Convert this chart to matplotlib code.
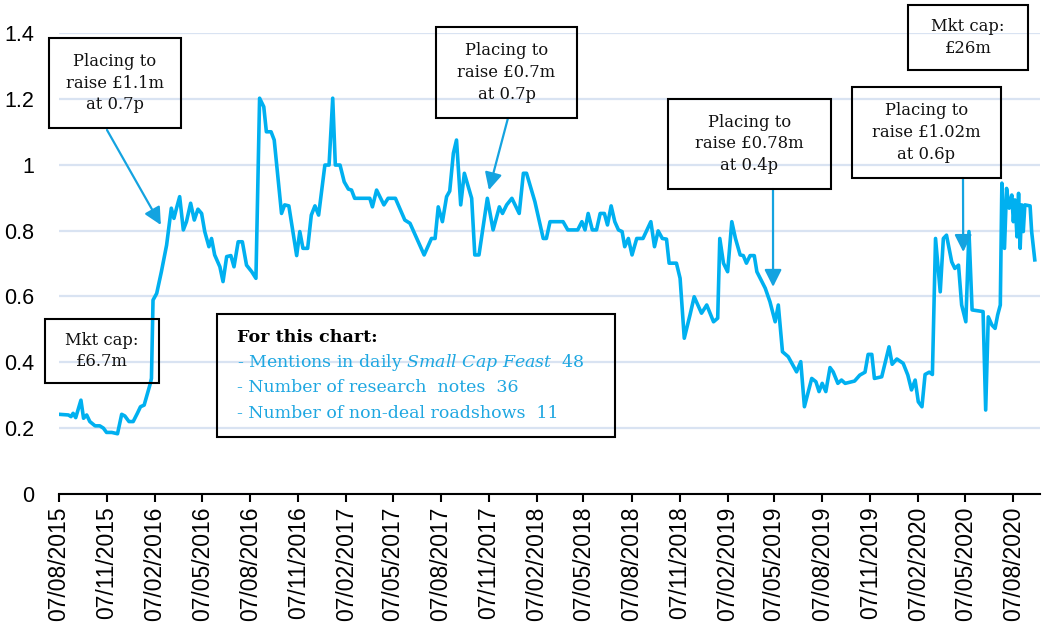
import matplotlib
matplotlib.use('Agg')
import matplotlib.pyplot as plt
import matplotlib.dates as mdates
import pandas as pd
from matplotlib.patches import Rectangle

# ---------------- data ----------------
dates = [
    '2015-08-07', '2015-08-25', '2015-08-30', '2015-09-03', '2015-09-08', '2015-09-18', '2015-09-23',
    '2015-09-29', '2015-10-05', '2015-10-15', '2015-10-24', '2015-10-31', '2015-11-06', '2015-11-16',
    '2015-11-27', '2015-12-05', '2015-12-11', '2015-12-19', '2015-12-27', '2016-01-04', '2016-01-10',
    '2016-01-17', '2016-01-28', '2016-01-31', '2016-02-03', '2016-02-10', '2016-02-19', '2016-02-29',
    '2016-03-09', '2016-03-14', '2016-03-19', '2016-03-25', '2016-04-01', '2016-04-07', '2016-04-15',
    '2016-04-22', '2016-04-29', '2016-05-06', '2016-05-12', '2016-05-20', '2016-05-25', '2016-05-31',
    '2016-06-10', '2016-06-16', '2016-06-23', '2016-07-01', '2016-07-07', '2016-07-15', '2016-07-23',
    '2016-07-31', '2016-08-10', '2016-08-18', '2016-08-25', '2016-09-02', '2016-09-07', '2016-09-16',
    '2016-09-22', '2016-10-06', '2016-10-12', '2016-10-20', '2016-11-04', '2016-11-10', '2016-11-16',
    '2016-11-25', '2016-12-02', '2016-12-09', '2016-12-16', '2016-12-28', '2017-01-05', '2017-01-12',
    '2017-01-17', '2017-01-26', '2017-02-03', '2017-02-11', '2017-02-17', '2017-02-23', '2017-03-24',
    '2017-03-29', '2017-04-06', '2017-04-20', '2017-04-28', '2017-05-12', '2017-05-30', '2017-06-09',
    '2017-07-06', '2017-07-20', '2017-07-27', '2017-08-02', '2017-08-10', '2017-08-18', '2017-08-24',
    '2017-08-31', '2017-09-06', '2017-09-14', '2017-09-21', '2017-10-05', '2017-10-11', '2017-10-19',
    '2017-11-04', '2017-11-15', '2017-11-27', '2017-12-03', '2017-12-11', '2017-12-21', '2018-01-04',
    '2018-01-12', '2018-01-18', '2018-02-03', '2018-02-19', '2018-02-25', '2018-03-04', '2018-03-29',
    '2018-04-07', '2018-04-26', '2018-05-04', '2018-05-10', '2018-05-16', '2018-05-24', '2018-06-01',
    '2018-06-08', '2018-06-16', '2018-06-22', '2018-06-29', '2018-07-06', '2018-07-13', '2018-07-20',
    '2018-07-25', '2018-08-01', '2018-08-08', '2018-08-17', '2018-08-29', '2018-09-13', '2018-09-20',
    '2018-09-27', '2018-10-05', '2018-10-13', '2018-10-18', '2018-11-01', '2018-11-08', '2018-11-16',
    '2018-11-27', '2018-12-05', '2018-12-19', '2018-12-29', '2019-01-11', '2019-01-19', '2019-01-23',
    '2019-01-30', '2019-02-07', '2019-02-15', '2019-02-22', '2019-03-03', '2019-03-09', '2019-03-15',
    '2019-03-22', '2019-03-30', '2019-04-04', '2019-04-20', '2019-04-29', '2019-05-09', '2019-05-15',
    '2019-05-23', '2019-06-03', '2019-06-19', '2019-06-27', '2019-07-04', '2019-07-18', '2019-07-26',
    '2019-08-01', '2019-08-07', '2019-08-14', '2019-08-22', '2019-08-28', '2019-09-06', '2019-09-13',
    '2019-09-20', '2019-10-08', '2019-10-18', '2019-10-28', '2019-11-03', '2019-11-10', '2019-11-15',
    '2019-11-29', '2019-12-09', '2019-12-13', '2019-12-19', '2019-12-28', '2020-01-09', '2020-01-18',
    '2020-01-25', '2020-02-01', '2020-02-07', '2020-02-14', '2020-02-20', '2020-02-28', '2020-03-05',
    '2020-03-11', '2020-03-20', '2020-03-26', '2020-04-01', '2020-04-11', '2020-04-17', '2020-04-24',
    '2020-04-30', '2020-05-08', '2020-05-14', '2020-05-20', '2020-06-10', '2020-06-15', '2020-06-20',
    '2020-06-27', '2020-07-03', '2020-07-08', '2020-07-13', '2020-07-16', '2020-07-21', '2020-07-25',
    '2020-07-30', '2020-08-04', '2020-08-07', '2020-08-10', '2020-08-14', '2020-08-17', '2020-08-20',
    '2020-08-23', '2020-08-26', '2020-08-29', '2020-09-08', '2020-09-11', '2020-09-17',
]
price = [
    0.242, 0.240, 0.235, 0.245, 0.232, 0.285, 0.230,
    0.240, 0.220, 0.207, 0.207, 0.200, 0.187, 0.187,
    0.183, 0.242, 0.237, 0.220, 0.220, 0.245, 0.265,
    0.270, 0.331, 0.351, 0.589, 0.609, 0.675, 0.756,
    0.868, 0.837, 0.868, 0.903, 0.802, 0.827, 0.883,
    0.832, 0.865, 0.852, 0.797, 0.751, 0.776, 0.726,
    0.690, 0.645, 0.721, 0.724, 0.690, 0.766, 0.766,
    0.695, 0.675, 0.655, 1.202, 1.176, 1.100, 1.100,
    1.075, 0.852, 0.878, 0.875, 0.724, 0.797, 0.746,
    0.746, 0.847, 0.875, 0.847, 0.999, 0.999, 1.202,
    0.999, 0.999, 0.948, 0.926, 0.923, 0.898, 0.898,
    0.872, 0.923, 0.878, 0.898, 0.898, 0.832, 0.822,
    0.726, 0.776, 0.776, 0.872, 0.827, 0.903, 0.920,
    1.035, 1.075, 0.878, 0.974, 0.898, 0.726, 0.726,
    0.898, 0.802, 0.872, 0.852, 0.878, 0.898, 0.852,
    0.974, 0.974, 0.888, 0.776, 0.776, 0.827, 0.827,
    0.802, 0.802, 0.827, 0.802, 0.852, 0.802, 0.802,
    0.852, 0.852, 0.817, 0.875, 0.827, 0.802, 0.797,
    0.751, 0.776, 0.726, 0.776, 0.776, 0.827, 0.751,
    0.799, 0.776, 0.774, 0.701, 0.701, 0.655, 0.473,
    0.544, 0.599, 0.549, 0.574, 0.523, 0.534, 0.776,
    0.701, 0.675, 0.827, 0.776, 0.726, 0.724, 0.701,
    0.724, 0.724, 0.675, 0.625, 0.584, 0.523, 0.574,
    0.432, 0.417, 0.371, 0.402, 0.265, 0.351, 0.341,
    0.311, 0.336, 0.311, 0.384, 0.371, 0.336, 0.346,
    0.336, 0.343, 0.361, 0.370, 0.424, 0.424, 0.351,
    0.356, 0.422, 0.447, 0.394, 0.410, 0.397, 0.361,
    0.316, 0.346, 0.280, 0.265, 0.363, 0.370, 0.363,
    0.776, 0.614, 0.776, 0.786, 0.705, 0.685, 0.695,
    0.574, 0.523, 0.797, 0.559, 0.554, 0.255, 0.538,
    0.513, 0.503, 0.544, 0.574, 0.944, 0.746, 0.928,
    0.868, 0.908, 0.827, 0.893, 0.781, 0.913, 0.746,
    0.878, 0.797, 0.878, 0.875, 0.797, 0.711,
]

y_ticks = [0, 0.2, 0.4, 0.6, 0.8, 1, 1.2, 1.4]
y_tick_labels = ['0', '0.2', '0.4', '0.6', '0.8', '1', '1.2', '1.4']

legend_title = 'For this chart:'
legend_lines = [
    r'- Mentions in daily $\mathit{Small\ Cap\ Feast}$  48',
    '- Number of research  notes  36',
    '- Number of non-deal roadshows  11',
]

placing_texts = [
    'Placing to\nraise £1.1m\nat 0.7p',
    'Placing to\nraise £0.7m\nat 0.7p',
    'Placing to\nraise £0.78m\nat 0.4p',
    'Placing to\nraise £1.02m\nat 0.6p',
]
placing_targets = [('2016-02-18', 0.817), ('2017-11-07', 0.923),
                   ('2019-05-05', 0.629), ('2020-05-03', 0.735)]
mktcap_texts = ['Mkt cap:\n£6.7m', 'Mkt cap:\n£26m']

# ---------------- style ----------------
plt.rcParams['mathtext.fontset'] = 'custom'
plt.rcParams['mathtext.rm'] = 'DejaVu Serif'
plt.rcParams['mathtext.it'] = 'DejaVu Serif:italic'

LINE_C = '#00B0F0'
ARROW_C = '#14A3E0'
TEXT_BLUE = '#1EA7E1'
GRID_C = '#D9E3F2'
SERIF = 'DejaVu Serif'
SANS = 'Liberation Sans'

W, H = 1048, 630
fig = plt.figure(figsize=(W / 100, H / 100), dpi=100)
ax = fig.add_axes([59 / W, 1 - 494 / H, (1040 - 59) / W, (494 - 33) / H])

x = pd.to_datetime(dates)
ax.plot(x, price, color=LINE_C, lw=2.6, solid_joinstyle='round', zorder=3)

ax.set_ylim(0, 1.4)
ax.set_xlim(pd.Timestamp('2015-08-07'), pd.Timestamp('2020-09-27'))
ax.set_yticks(y_ticks)
ax.set_yticklabels(y_tick_labels, fontfamily=SANS, fontsize=15.5)

tick_dates = [pd.Timestamp('2015-08-07') + pd.DateOffset(months=3 * i) for i in range(21)]
ax.set_xticks(tick_dates)
ax.xaxis.set_major_formatter(mdates.DateFormatter('%d/%m/%Y'))
for lbl in ax.get_xticklabels():
    lbl.set_rotation(90)
    lbl.set_fontfamily(SANS)
    lbl.set_fontsize(16.5)

ax.grid(axis='y', color=GRID_C, lw=1.6, zorder=0)
ax.set_axisbelow(True)
for s in ['top', 'right', 'left']:
    ax.spines[s].set_visible(False)
ax.spines['bottom'].set_color('black')
ax.spines['bottom'].set_linewidth(1.5)
ax.spines['bottom'].set_zorder(4)
ax.tick_params(axis='y', length=0, pad=18)
ax.tick_params(axis='x', length=6, width=1.5, color='black', pad=3, direction='out')


def fx(px):
    return px / W


def fy(py):
    return 1 - py / H


def box(x0, y0, x1, y1, text=None, size=11.8):
    fig.add_artist(Rectangle((fx(x0), fy(y1)), (x1 - x0) / W, (y1 - y0) / H,
                             transform=fig.transFigure, fill=False, ec='black', lw=1.5, zorder=5))
    if text is not None:
        fig.text(fx((x0 + x1) / 2), fy((y0 + y1) / 2), text, ha='center', va='center',
                 family=SERIF, fontsize=size, linespacing=1.38, color='#111111', zorder=6)


# placing boxes
box(49, 38, 181, 128, placing_texts[0])
box(436, 27, 577, 118, placing_texts[1])
box(668, 99, 831, 189, placing_texts[2])
box(852, 87, 1001, 178, placing_texts[3])
# market cap boxes
box(45, 319, 159, 383, mktcap_texts[0])
box(908, 5, 1028, 70, mktcap_texts[1])

arrow_starts = [(107, 130), (508, 118), (773, 189), (963, 178)]
for (sx, sy), (td, tv) in zip(arrow_starts, placing_targets):
    ax.annotate('', xy=(pd.Timestamp(td), tv), xycoords='data',
                xytext=(fx(sx), fy(sy)), textcoords='figure fraction',
                arrowprops=dict(arrowstyle='-|>', color=ARROW_C, lw=1.6,
                                mutation_scale=26, shrinkA=0, shrinkB=0),
                annotation_clip=False, zorder=6)

# notes box
box(217, 314, 615, 437)
fig.text(fx(237), fy(337), legend_title, ha='left', va='center', family=SERIF,
         fontsize=12.6, fontweight='bold', color='black')
for i, line in enumerate(legend_lines):
    fig.text(fx(237), fy(363 + 25 * i), line, ha='left', va='center', family=SERIF,
             fontsize=12.5, color=TEXT_BLUE)

fig.savefig('out.png', dpi=100)
